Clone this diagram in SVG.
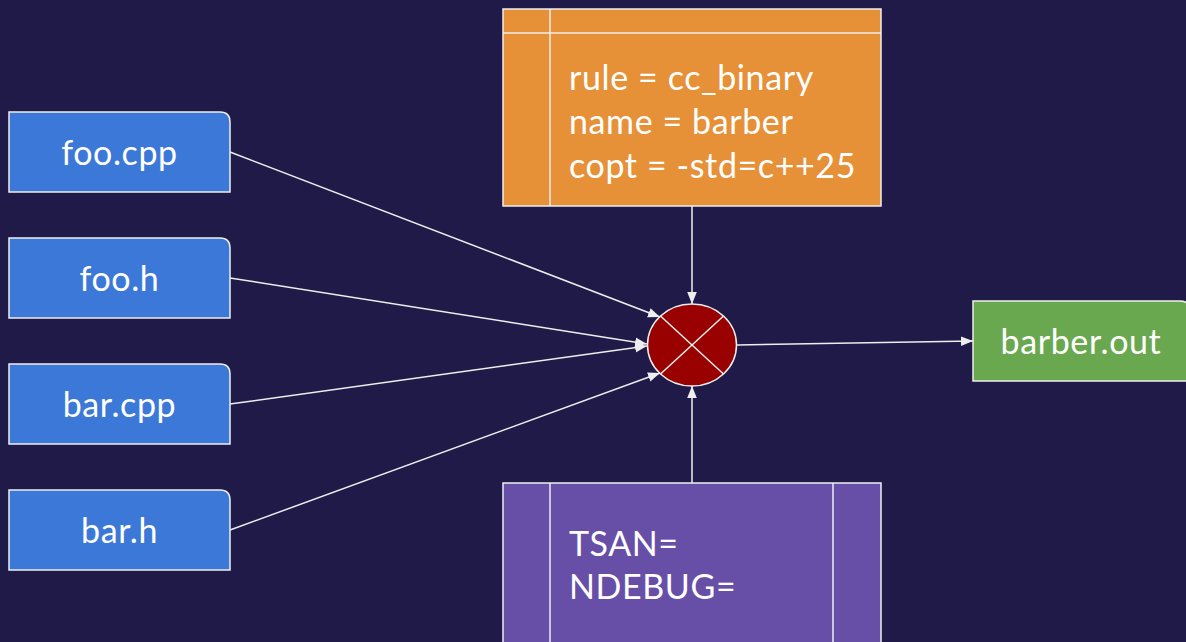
<svg xmlns="http://www.w3.org/2000/svg" width="1186" height="642" viewBox="0 0 1186 642">
  <style>
    .lbl { font-family: Lato, "Open Sans", "Liberation Sans", sans-serif; font-size: 34px; letter-spacing: 0.6px; fill: #ffffff; }
    .mid { text-anchor: middle; }
    .box { stroke: #eeeeee; stroke-width: 1.5; }
    .file { fill: #3c78d8; }
    .edge { stroke: #eeeeee; stroke-width: 1.5; fill: none; marker-end: url(#arrow); }
    .div { stroke: #eeeeee; stroke-width: 1.5; }
  </style>
  <defs>
    <marker id="arrow" viewBox="0 0 10 10" refX="10" refY="5" markerWidth="12" markerHeight="12" markerUnits="userSpaceOnUse" orient="auto">
      <path d="M0,1 L10,5 L0,9 z" fill="#eeeeee"/>
    </marker>
  </defs>
  <rect width="1186" height="642" fill="#201a48"/>

  <!-- connectors -->
  <g id="connectors">
    <line class="edge" x1="230" y1="152" x2="660" y2="317"/>
    <line class="edge" x1="230" y1="278" x2="647" y2="344"/>
    <line class="edge" x1="230" y1="404" x2="647" y2="346"/>
    <line class="edge" x1="230" y1="530" x2="660" y2="373"/>
    <line class="edge" x1="692" y1="206" x2="692" y2="304"/>
    <line class="edge" x1="692" y1="483" x2="692" y2="386"/>
    <line class="edge" x1="737" y1="345" x2="973" y2="341"/>
  </g>

  <!-- source files -->
  <g id="foo_cpp">
    <path class="box file" d="M9,112 H220 Q230,112 230,122 V192 H9 Z"/>
    <text class="lbl mid" x="119.5" y="165">foo.cpp</text>
  </g>
  <g id="foo_h">
    <path class="box file" d="M9,238 H220 Q230,238 230,248 V318 H9 Z"/>
    <text class="lbl mid" x="119.5" y="291">foo.h</text>
  </g>
  <g id="bar_cpp">
    <path class="box file" d="M9,364 H220 Q230,364 230,374 V444 H9 Z"/>
    <text class="lbl mid" x="119.5" y="417">bar.cpp</text>
  </g>
  <g id="bar_h">
    <path class="box file" d="M9,490 H220 Q230,490 230,500 V570 H9 Z"/>
    <text class="lbl mid" x="119.5" y="543">bar.h</text>
  </g>

  <!-- build rule -->
  <g id="rule">
    <rect class="box" x="503" y="9" width="378" height="197" fill="#e69138"/>
    <line class="div" x1="503" y1="33" x2="881" y2="33"/>
    <line class="div" x1="550" y1="9" x2="550" y2="206"/>
    <text class="lbl" x="569" y="90">rule = cc_binary</text>
    <text class="lbl" x="569" y="134">name = barber</text>
    <text class="lbl" x="569" y="178">copt = -std=c++25</text>
  </g>

  <!-- environment -->
  <g id="env">
    <rect class="box" x="503" y="483" width="378" height="170" fill="#674ea7"/>
    <line class="div" x1="550" y1="483" x2="550" y2="642"/>
    <line class="div" x1="833" y1="483" x2="833" y2="642"/>
    <text class="lbl" x="569" y="556">TSAN=</text>
    <text class="lbl" x="569" y="599">NDEBUG=</text>
  </g>

  <!-- action -->
  <g id="action">
    <ellipse class="box" cx="692" cy="345" rx="44.5" ry="41" fill="#990000"/>
    <line class="div" x1="660.5" y1="316" x2="723.5" y2="374"/>
    <line class="div" x1="723.5" y1="316" x2="660.5" y2="374"/>
  </g>

  <!-- output -->
  <g id="barber_out">
    <path class="box" d="M973,301 H1180 Q1190,301 1190,311 V381 H973 Z" fill="#6aa84f"/>
    <text class="lbl mid" x="1081" y="354">barber.out</text>
  </g>
</svg>
